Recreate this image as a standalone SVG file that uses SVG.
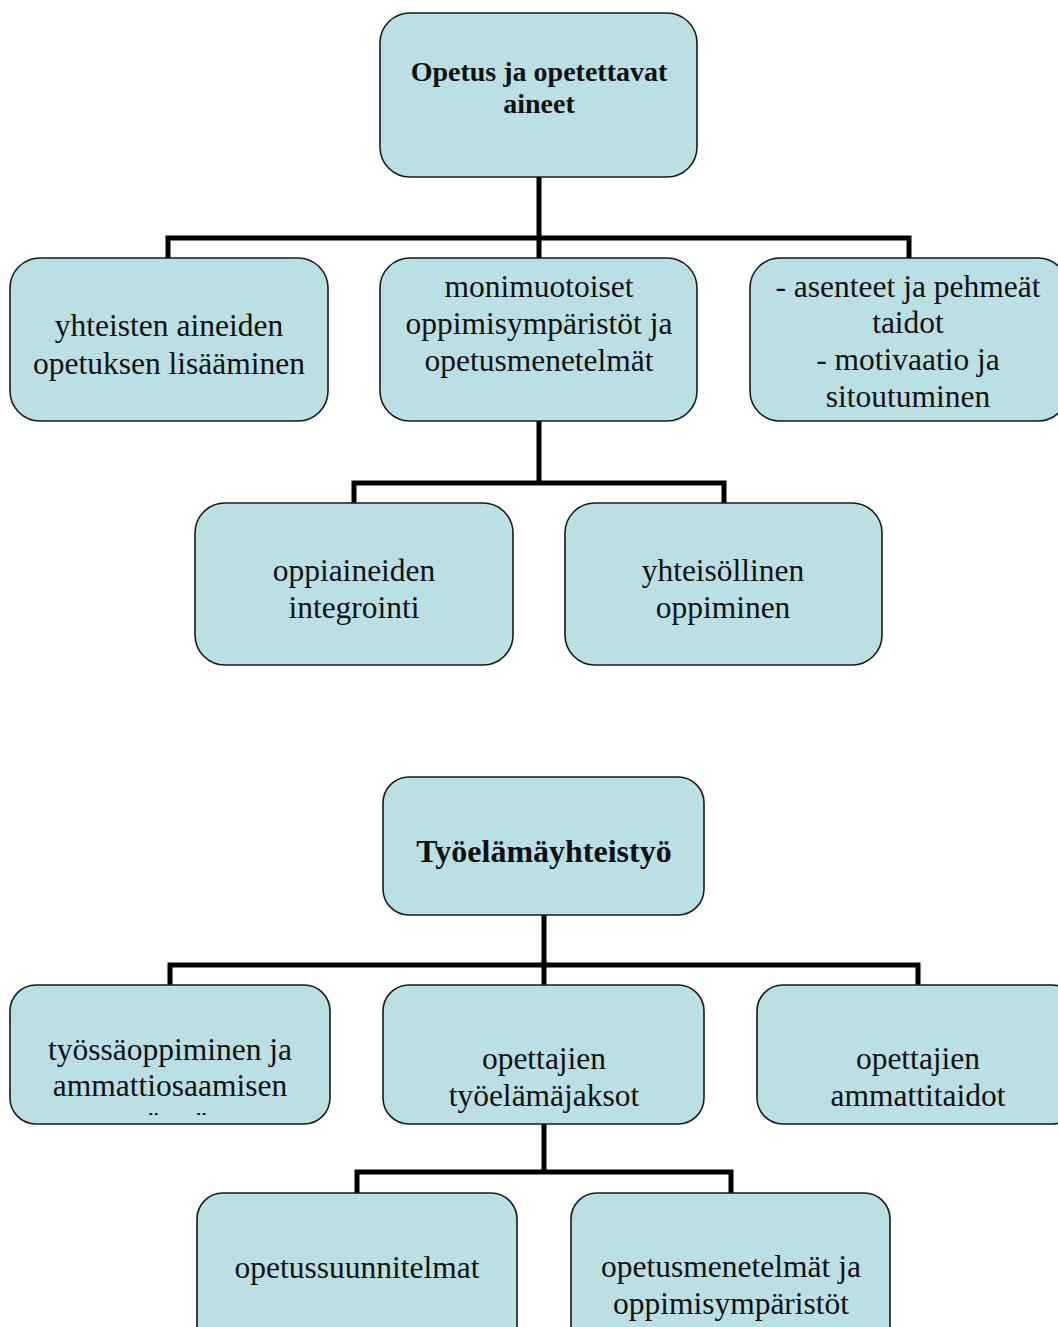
<svg xmlns="http://www.w3.org/2000/svg" width="1058" height="1327" viewBox="0 0 1058 1327">
<style>
.box{fill:#bbe0e3;stroke:#1a1a1a;stroke-width:1.6}
.t{font-family:"Liberation Serif","Times New Roman",serif;font-size:31.5px;fill:#111;text-anchor:middle}
.b{font-weight:bold;font-size:28px}
.conn{fill:none;stroke:#000;stroke-width:5}
</style>
<defs>
<clipPath id="clipA"><rect x="10" y="985" width="320" height="130"/></clipPath>
</defs>
<rect width="1058" height="1327" fill="#fff"/>
<g id="connectors">
<path class="conn" d="M539 177V238M168 258V238H909V258M539 238V258"/>
<path class="conn" d="M539 421V483M354 503V483H724V503"/>
<path class="conn" d="M544 915V965M170 985V965H918V985M544 965V985"/>
<path class="conn" d="M544 1124V1172M357 1193V1172H731V1193"/>
</g>
<g id="n1"><rect class="box" x="380" y="13" width="317" height="164" rx="30"/>
<text class="t b" x="539" y="81">Opetus ja opetettavat</text><text class="t b" x="539" y="113">aineet</text></g>
<g id="n2"><rect class="box" x="10" y="258" width="318" height="163" rx="30"/>
<text class="t" x="169" y="336">yhteisten aineiden</text><text class="t" x="169" y="374">opetuksen lisääminen</text></g>
<g id="n3"><rect class="box" x="380" y="258" width="317" height="163" rx="30"/>
<text class="t" x="539" y="297">monimuotoiset</text><text class="t" x="539" y="334">oppimisympäristöt ja</text><text class="t" x="539" y="371">opetusmenetelmät</text></g>
<g id="n4"><rect class="box" x="750" y="258" width="318" height="163" rx="30"/>
<text class="t" x="908" y="297">- asenteet ja pehmeät</text><text class="t" x="908" y="333">taidot</text><text class="t" x="908" y="370">- motivaatio ja</text><text class="t" x="908" y="407">sitoutuminen</text></g>
<g id="n5"><rect class="box" x="195" y="503" width="318" height="162" rx="30"/>
<text class="t" x="354" y="581">oppiaineiden</text><text class="t" x="354" y="618">integrointi</text></g>
<g id="n6"><rect class="box" x="565" y="503" width="317" height="162" rx="30"/>
<text class="t" x="723" y="581">yhteisöllinen</text><text class="t" x="723" y="618">oppiminen</text></g>
<g id="n7"><rect class="box" x="383" y="777" width="321" height="138" rx="26"/>
<text class="t b" x="544" y="862" style="font-size:32px">Työelämäyhteistyö</text></g>
<g id="n8"><rect class="box" x="10" y="985" width="320" height="139" rx="26"/>
<g clip-path="url(#clipA)"><text class="t" x="170" y="1060">työssäoppiminen ja</text><text class="t" x="170" y="1096">ammattiosaamisen</text><text class="t" x="170" y="1133">näyttö</text></g></g>
<g id="n9"><rect class="box" x="383" y="985" width="321" height="139" rx="26"/>
<text class="t" x="544" y="1069">opettajien</text><text class="t" x="544" y="1106">työelämäjaksot</text></g>
<g id="n10"><rect class="box" x="757" y="985" width="321" height="139" rx="26"/>
<text class="t" x="918" y="1069">opettajien</text><text class="t" x="918" y="1106">ammattitaidot</text></g>
<g id="n11"><rect class="box" x="197" y="1193" width="320" height="160" rx="26"/>
<text class="t" x="357" y="1278">opetussuunnitelmat</text></g>
<g id="n12"><rect class="box" x="571" y="1193" width="319" height="160" rx="26"/>
<text class="t" x="731" y="1277">opetusmenetelmät ja</text><text class="t" x="731" y="1314">oppimisympäristöt</text></g>
</svg>
